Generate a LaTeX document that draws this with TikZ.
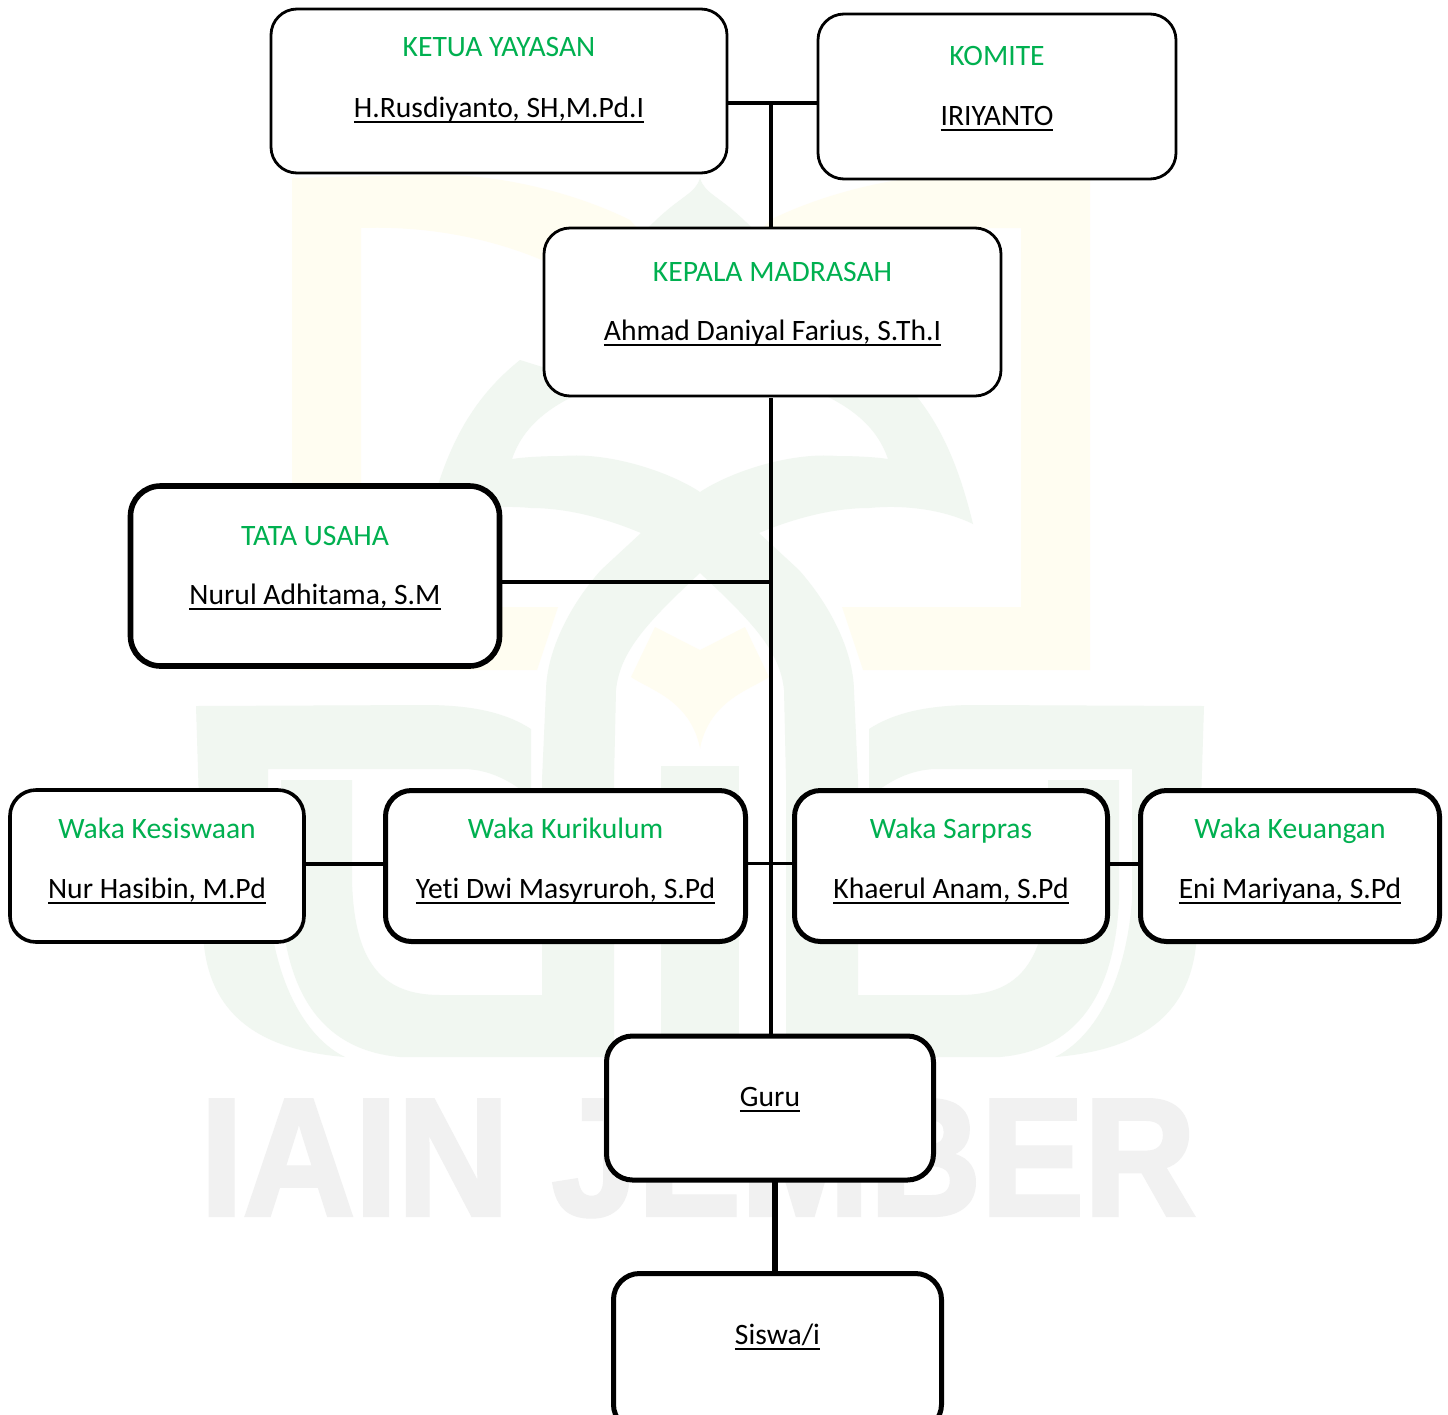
\documentclass[tikz,border=0pt]{standalone}
\usepackage{fontspec}
\setmainfont[Ligatures={NoCommon}]{Carlito}
\newfontfamily\wmfont[BoldFeatures={FakeBold=2.5}]{Liberation Sans}
\definecolor{tgreen}{HTML}{00B050}
\definecolor{wmgreen}{HTML}{F1F7F1}
\definecolor{wmyellow}{HTML}{FFFDF1}
\definecolor{wmgrey}{HTML}{F1F1F1}
\newcommand\ulname[1]{\setbox0\hbox{#1}\rlap{\vrule width\wd0 height -3.6pt depth 5.9pt}\box0 }
\newcommand\twoline[4]{\makebox[0pt]{\smash{\raisebox{#3}{\textcolor{tgreen}{#1}}}}\makebox[0pt]{\smash{\raisebox{#4}{\ulname{#2}}}}}
\newcommand\oneline[2]{\makebox[0pt]{\smash{\raisebox{#2}{\ulname{#1}}}}}
\newcommand\wmhalf{%
  % crescent, arch and inner J
  \fill[wmgreen] (700,492) .. controls (670,472) and (610,452) .. (563,456) .. controls (545,456) and (525,457) .. (512,459) .. controls (522,430) and (545,405) .. (600,385) -- (520,360) .. controls (470,400) and (445,450) .. (427,524) .. controls (460,508) and (500,505) .. (531,508) .. controls (570,508) and (610,520) .. (641,533) -- (601,570) .. controls (570,605) and (547,650) .. (546,690) -- (542,780) -- (542,995) -- (440,995) .. controls (380,995) and (354,960) .. (352,880) -- (352,780) -- (281,780) -- (281,900) .. controls (285,990) and (320,1050) .. (400,1057) -- (614,1057) -- (614,780) -- (616,690) .. controls (620,650) and (650,620) .. (700,573) -- cycle;
  % outer U
  \fill[wmgreen] (196,706) -- (425,705) .. controls (470,705) and (505,712) .. (531,729) -- (531,798) .. controls (520,788) and (495,769) .. (463,769) -- (268,769) -- (268,900) .. controls (275,990) and (310,1040) .. (345,1057) .. controls (260,1050) and (205,1015) .. (203,930) -- cycle;
  % spike
  \fill[wmgreen] (700,178) .. controls (695,195) and (680,195) .. (648,228) -- (648,300) -- (700,300) -- cycle;
  % leaf
  \fill[wmyellow] (700,650) -- (655,627) -- (631,677) .. controls (650,690) and (690,700) .. (700,748) -- cycle;
}
\tikzset{
  orgbox/.style={draw=black,fill=white,rounded corners=26pt,outer sep=0pt,inner sep=0pt,font=\fontsize{29.6}{32}\selectfont},
  thinbox/.style={orgbox,line width=2.8pt},
  medbox/.style={orgbox,line width=3.6pt},
  heavybox/.style={orgbox,line width=5pt},
  widebox/.style={orgbox,line width=5.6pt,rounded corners=30pt},
  link/.style={line width=3pt,draw=black}
}
\begin{document}
\begin{tikzpicture}[x=1pt,y=-1pt]
\path[use as bounding box,clip] (0,0) rectangle (1448,1414);
\fill[white] (0,0) rectangle (1448,1414);
% watermark
\fill[wmyellow] (700,300) -- (630,220) .. controls (590,200) and (510,172) .. (424,175) -- (292,178) -- (292,670) -- (537,670) -- (558,607) -- (361,607) -- (361,228) .. controls (420,226) and (490,235) .. (560,268) -- cycle;
\fill[wmyellow] (700,300) -- (770,220) .. controls (810,200) and (890,172) .. (976,175) -- (1090,178) -- (1090,670) -- (863,670) -- (842,607) -- (1021,607) -- (1021,228) -- (960,228) -- (840,268) -- cycle;
\wmhalf
\begin{scope}[xshift=1400pt,xscale=-1]
\wmhalf
\end{scope}
\fill[wmgreen] (661,766) rectangle (739,1057);
\node[wmgrey,font=\wmfont\bfseries\fontsize{167}{170}\selectfont,transform shape,xscale=.925,anchor=base,inner sep=0pt] (wmtext) at (698,1215) {IAIN JEMBER};
% nodes
\node[thinbox,minimum width=456pt,minimum height=164pt] (ketua) at (499,91) {\twoline{KETUA YAYASAN}{H.Rusdiyanto, SH,M.Pd.I}{35pt}{-26pt}};
\node[thinbox,minimum width=358pt,minimum height=165pt] (komite) at (997,96.5) {\twoline{KOMITE}{IRIYANTO}{31.5pt}{-28.5pt}};
\node[thinbox,minimum width=457pt,minimum height=168pt] (kepala) at (772.5,312) {\twoline{KEPALA MADRASAH}{Ahmad Daniyal Farius, S.Th.I}{31pt}{-28pt}};
\node[widebox,minimum width=369pt,minimum height=180pt] (tata) at (315,576) {\twoline{TATA USAHA}{Nurul Adhitama, S.M}{31pt}{-28pt}};
\node[medbox,minimum width=294pt,minimum height=152pt] (kesiswaan) at (157,866) {\twoline{Waka Kesiswaan}{Nur Hasibin, M.Pd}{27.5pt}{-32pt}};
\node[heavybox,minimum width=360pt,minimum height=151pt] (kurikulum) at (565.5,866) {\twoline{Waka Kurikulum}{Yeti Dwi Masyruroh, S.Pd}{27.5pt}{-32pt}};
\node[heavybox,minimum width=313pt,minimum height=151pt] (sarpras) at (951,866) {\twoline{Waka Sarpras}{Khaerul Anam, S.Pd}{27.5pt}{-32pt}};
\node[heavybox,minimum width=299pt,minimum height=151pt] (keuangan) at (1290,866) {\twoline{Waka Keuangan}{Eni Mariyana, S.Pd}{27.5pt}{-32pt}};
\node[heavybox,minimum width=327pt,minimum height=144pt] (guru) at (770,1108) {\oneline{Guru}{2pt}};
\node[heavybox,minimum width=328pt,minimum height=157pt] (siswa) at (777.5,1352) {\oneline{Siswa/i}{8pt}};
% junctions
\coordinate (j1) at (771,102.5);
\coordinate (j2) at (771,398);
\coordinate (j3) at (771,582);
\coordinate (j4) at (771,863.5);
\coordinate (j5) at (775,1180);
% connectors
\draw[link,line width=4pt] (ketua.east |- j1) -- (komite.west |- j1);
\draw[link,line width=3.4pt] (j1) -- (j1 |- kepala.north);
\draw[link,line width=3.4pt] (j2) -- (j2 |- guru.north);
\draw[link,line width=4pt] (tata.east |- j3) -- (j3);
\draw[link,line width=3.4pt] (kurikulum.east |- j4) -- (sarpras.west |- j4);
\draw[link,line width=4pt] (kesiswaan.east |- j4) -- (kurikulum.west |- j4);
\draw[link,line width=4pt] (sarpras.east |- j4) -- (keuangan.west |- j4);
\draw[link,line width=5.5pt] (j5) -- (j5 |- siswa.north);
\end{tikzpicture}
\end{document}
